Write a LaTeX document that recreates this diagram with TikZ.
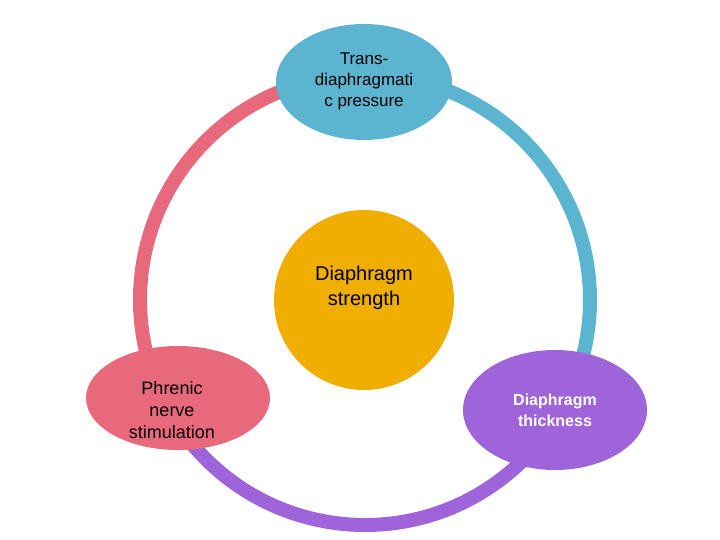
\documentclass[tikz,border=0pt]{standalone}
\usepackage{fontspec}
\setmainfont{Liberation Sans}
\definecolor{pinkc}{HTML}{E8697B}
\definecolor{bluec}{HTML}{5BB5D0}
\definecolor{purpc}{HTML}{A064DA}
\definecolor{goldc}{HTML}{F0AE00}
\tikzset{ring/.style={line width=14pt},
 blob/.style={ellipse, inner sep=0pt, align=center, font=\fontsize{17}{21}\selectfont}}
\usetikzlibrary{shapes.geometric}
\begin{document}
\begin{tikzpicture}[x=1pt,y=1pt]
\useasboundingbox[fill=white] (0,0) rectangle (720,540);
\coordinate (c) at (365,240);
\draw[ring,pinkc] (c) ++(90:225) arc[start angle=90,end angle=215,radius=225];
\draw[ring,bluec] (c) ++(90:225) arc[start angle=90,end angle=-25,radius=225];
\draw[ring,purpc] (c) ++(215:225) arc[start angle=215,end angle=335,radius=225];
\node[blob,fill=bluec,minimum width=176pt,minimum height=116pt] (top) at (364,458) {};
\node[align=center,font=\fontsize{17}{21}\selectfont] at (364,459) {Trans-\\diaphragmati\\c pressure};
\node[blob,fill=goldc,circle,minimum size=180pt] (mid) at (364,240) {};
\node[align=center,font=\fontsize{20}{25}\selectfont] at (364,252) {Diaphragm\\strength};
\node[blob,fill=pinkc,minimum width=184pt,minimum height=104pt] (left) at (178,142) {};
\node[align=center,font=\fontsize{18}{22}\selectfont] at (172,130) {Phrenic\\nerve\\stimulation};
\node[blob,fill=purpc,minimum width=184pt,minimum height=120pt,text=white,font=\bfseries\fontsize{16}{21}\selectfont] (right) at (555,130) {Diaphragm\\thickness};
\end{tikzpicture}
\end{document}
